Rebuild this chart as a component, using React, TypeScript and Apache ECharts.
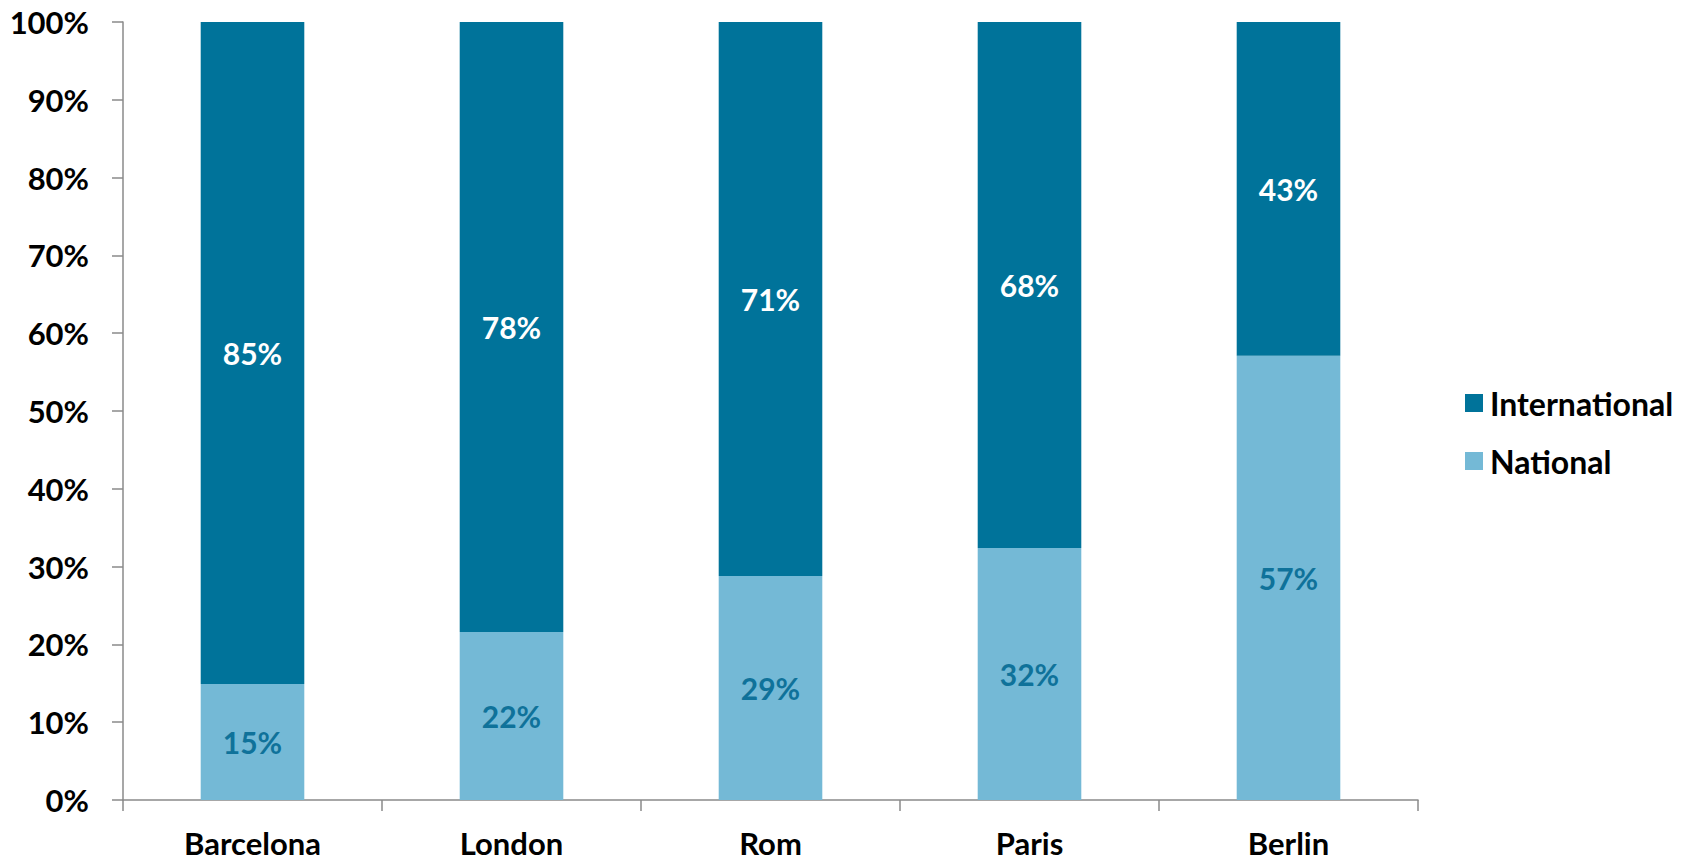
import React, { useEffect, useRef } from "react";
import * as echarts from "echarts";

const categories = ["Barcelona", "London", "Rom", "Paris", "Berlin"];
const nationalValues = [14.9, 21.6, 28.8, 32.4, 57.1];
const internationalValues = [85.1, 78.4, 71.2, 67.6, 42.9];
const seriesNames = ["International", "National"];

const FONT = "Lato";
const AXIS_COLOR = "#8a8a8a";

export default function App() {
  const ref = useRef<HTMLDivElement>(null);
  useEffect(() => {
    if (!ref.current) return;
    const chart = echarts.init(ref.current, undefined, { renderer: "svg" });
    chart.setOption({
      animation: false,
      backgroundColor: "#ffffff",
      textStyle: { fontFamily: FONT },
      grid: { left: 123, top: 22, right: 278, bottom: 60, containLabel: false },
      legend: {
        data: seriesNames,
        orient: "vertical",
        left: 1460,
        top: 382,
        icon: "rect",
        itemWidth: 18,
        itemHeight: 18,
        itemGap: 26,
        textStyle: { fontFamily: FONT, fontWeight: "bold", fontSize: 32, color: "#000", padding: [0, 0, 0, 2] },
      },
      xAxis: {
        type: "category",
        data: categories,
        axisLine: { lineStyle: { color: AXIS_COLOR, width: 1.5 } },
        axisTick: { show: true, length: 11, lineStyle: { color: AXIS_COLOR, width: 1.5 } },
        axisLabel: { margin: 27, fontFamily: FONT, fontWeight: "bold", fontSize: 31, color: "#000" },
      },
      yAxis: {
        type: "value",
        min: 0,
        max: 100,
        interval: 10,
        splitLine: { show: false },
        axisLine: { show: true, lineStyle: { color: AXIS_COLOR, width: 1.5 } },
        axisTick: { show: true, length: 11, lineStyle: { color: AXIS_COLOR, width: 1.5 } },
        axisLabel: { margin: 34, formatter: "{value}%", fontFamily: FONT, fontWeight: "bold", fontSize: 31, color: "#000" },
      },
      series: [
        {
          name: "National",
          type: "bar",
          stack: "total",
          barWidth: "40%",
          data: nationalValues,
          itemStyle: { color: "#74B9D6" },
          label: {
            show: true,
            position: "inside",
            formatter: (p: any) => Math.round(p.value) + "%",
            fontFamily: FONT,
            fontWeight: "bold",
            fontSize: 30,
            color: "#0F729A",
          },
        },
        {
          name: "International",
          type: "bar",
          stack: "total",
          barWidth: "40%",
          data: internationalValues,
          itemStyle: { color: "#00739A" },
          label: {
            show: true,
            position: "inside",
            formatter: (p: any) => Math.round(p.value) + "%",
            fontFamily: FONT,
            fontWeight: "bold",
            fontSize: 30,
            color: "#ffffff",
          },
        },
      ],
    });
    return () => chart.dispose();
  }, []);
  return (
    <div
      ref={ref}
      style={{ position: "fixed", left: 0, top: 0, width: 1696, height: 860, background: "#fff" }}
    />
  );
}
